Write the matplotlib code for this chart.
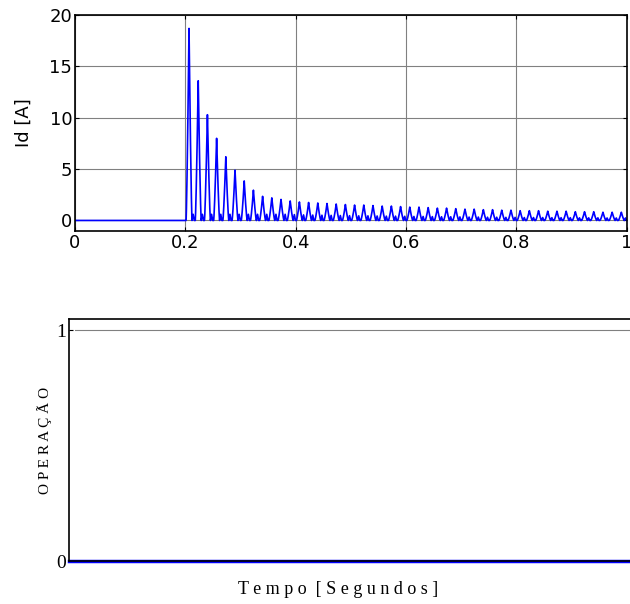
import numpy as np
import matplotlib
matplotlib.use('Agg')
import matplotlib.pyplot as plt

# valores de pico de cada ciclo (60 Hz), a partir de t = 0.2 s
picos = [18.7, 13.6, 10.3, 8.0, 6.2, 4.9, 3.85, 2.95, 2.35, 2.2,
         2.05, 1.9, 1.8, 1.75, 1.7, 1.65, 1.6, 1.55, 1.5, 1.5,
         1.45, 1.4, 1.4, 1.35, 1.3, 1.3, 1.25, 1.2, 1.2, 1.15,
         1.1, 1.1, 1.05, 1.05, 1.0, 1.0, 0.95, 0.95, 0.95, 0.9,
         0.9, 0.9, 0.85, 0.85, 0.85, 0.8, 0.8, 0.8]
vale = 0.6          # pequena corcova entre os picos [A]
t_inicio = 0.2
f_rede = 60.0
operacao_t = [0.0, 1.0]
operacao = [0, 0]

xticks = [0, 0.2, 0.4, 0.6, 0.8, 1]
xticklabels = ['0', '0.2', '0.4', '0.6', '0.8', '1']
yticks = [0, 5, 10, 15, 20]

# monta a forma de onda: pulso + corcova pequena em cada ciclo
n = 120
fase = np.linspace(0, 1, n, endpoint=False)
pulso = np.clip(1 - np.abs(fase - 0.4) / 0.32, 0, None) ** 1.3
corcova = np.clip(1 - np.abs(fase - 0.85) / 0.12, 0, None)
t = [np.array([0.0, t_inicio])]
i = [np.array([0.0, 0.0])]
for k, p in enumerate(picos):
    t.append(t_inicio + (k + fase) / f_rede)
    i.append(p * pulso + min(vale, 0.3 * p) * corcova)
t = np.concatenate(t)
i = np.concatenate(i)

plt.rcParams['font.family'] = ['DejaVu Sans']
fig = plt.figure(figsize=(6.3, 6.04), dpi=100)

ax1 = fig.add_axes([0.119, 0.618, 0.876, 0.357])
ax1.plot(t, i, color='#0000ff', lw=1.2)
ax1.set_xlim(0, 1)
ax1.set_ylim(-1, 20)
ax1.set_xticks(xticks)
ax1.set_xticklabels(xticklabels)
ax1.set_yticks(yticks)
ax1.grid(True, color='#808080', lw=0.8)
ax1.tick_params(direction='in', top=True, right=True, length=3, labelsize=13, pad=2)
ax1.set_ylabel('Id [A]', fontsize=13, labelpad=12)
for s in ax1.spines.values():
    s.set_linewidth(1.2)

ax2 = fig.add_axes([0.1095, 0.071, 0.9, 0.401])
ax2.plot(operacao_t, operacao, color='#0000ff', lw=2.5, clip_on=False)
ax2.set_xlim(0, 1)
ax2.set_ylim(0, 1.05)
ax2.set_yticks([0, 1])
ax2.set_xticks([])
ax2.axhline(1, color='#808080', lw=0.8, xmin=0.01, xmax=0.987)
ax2.spines['right'].set_visible(False)
ax2.tick_params(axis='y', direction='in', length=3, labelsize=14, pad=2)
for lab in ax2.get_yticklabels():
    lab.set_family('Liberation Serif')
ax2.set_ylabel('O P E R A Ç Ã O', family='Liberation Serif', fontsize=11, labelpad=3)
fig.text(338 / 630, 1 - 590 / 604, 'T e m p o  [ S e g u n d o s ]', family='Liberation Serif',
         fontsize=13, ha='center', va='center')
for s in ax2.spines.values():
    s.set_linewidth(1.2)

fig.savefig('out.png', dpi=100)
